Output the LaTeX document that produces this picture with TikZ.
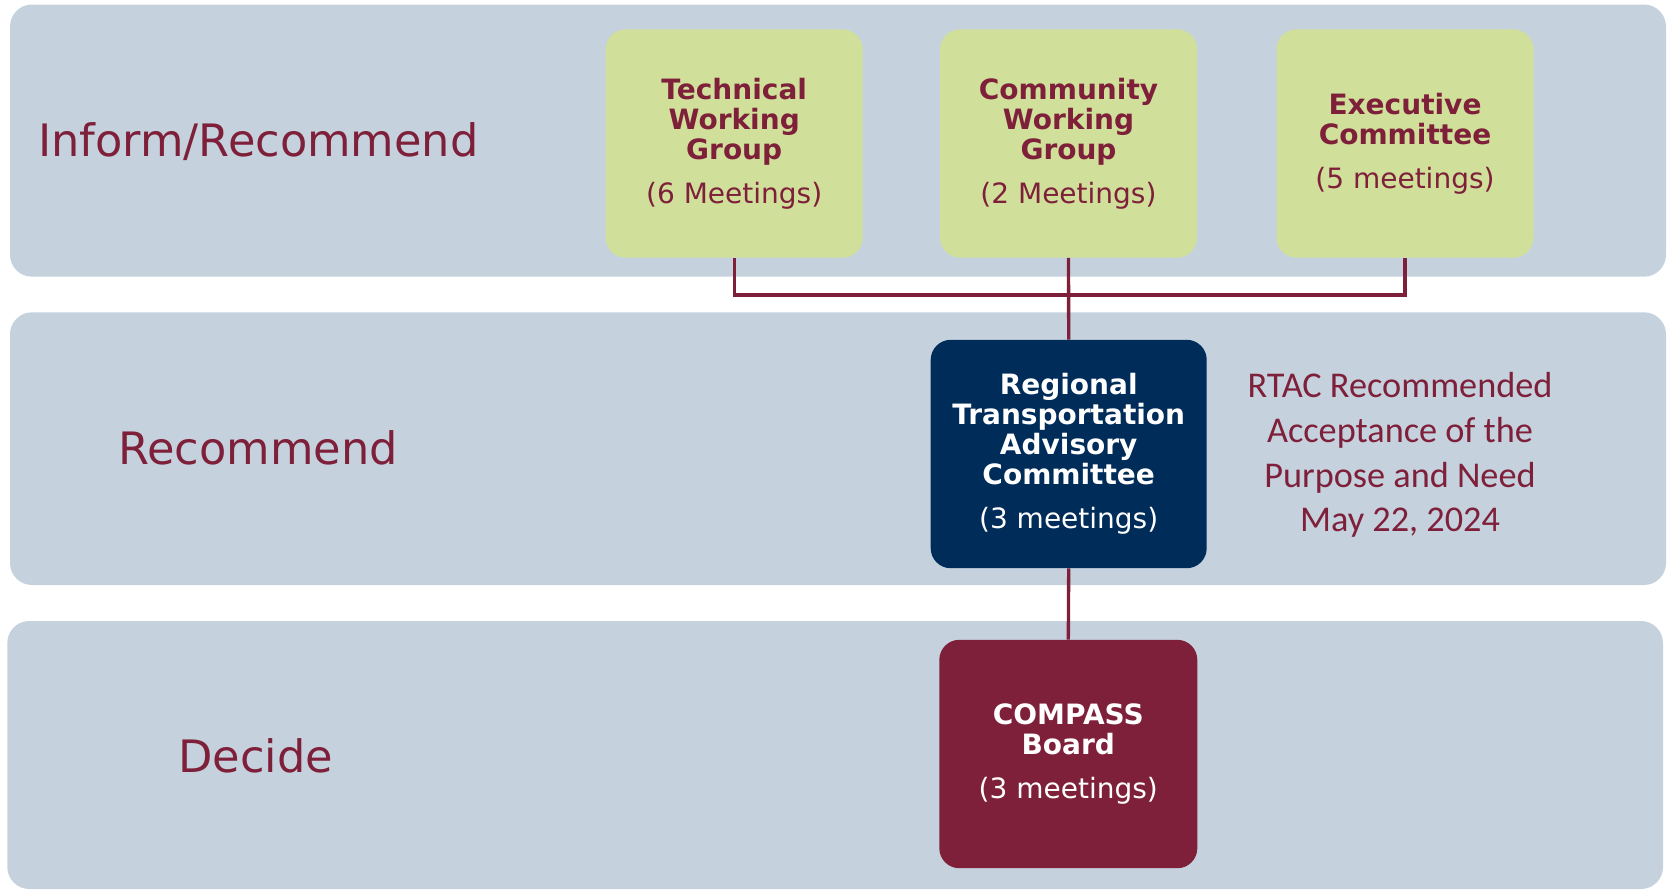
\documentclass[tikz,border=0pt]{standalone}
\usepackage{fontspec}
\setmainfont{DejaVu Sans}
\newfontfamily\notefont{Carlito}
\definecolor{laneblue}{HTML}{C5D2DE}
\definecolor{limegreen}{HTML}{D0E09B}
\definecolor{wine}{HTML}{7F203A}
\definecolor{navyblue}{HTML}{002C5A}
\newcommand\mtg[1]{{\fontsize{21pt}{22.5pt}\mdseries\selectfont #1}}
\begin{document}
\begin{tikzpicture}[x=0.75pt,y=-0.75pt,
  lane/.style={fill=laneblue, rounded corners=16.5pt},
  box/.style={rectangle, rounded corners=15pt, inner sep=0pt, align=center,
    minimum width=192.75pt, minimum height=171.2pt,
    font=\fontsize{21pt}{22.5pt}\selectfont\bfseries},
  greenbox/.style={box, fill=limegreen, text=wine},
  lbl/.style={inner sep=0pt, text=wine, font=\fontsize{33.5pt}{40pt}\selectfont},
  link/.style={draw=wine, line width=2.5pt}]
\useasboundingbox (0,0) rectangle (1669,890);
% bands
\fill[lane] (10,4.5) rectangle (1666,276.7);
\fill[lane] (10,312.3) rectangle (1666,585);
\fill[lane] (7.3,621) rectangle (1663,889);
% labels
\node[lbl, anchor=base west] (l1) at (38,156) {Inform/Recommend};
\node[lbl, anchor=base] (l2) at (258,464) {Recommend};
\node[lbl, anchor=base] (l3) at (255.5,772) {Decide};
% boxes
\node[greenbox] (tech) at (734.2,143.5) {Technical\\Working\\Group\\[10.5pt]\mtg{(6 Meetings)}};
\node[greenbox] (com) at (1068.5,143.5) {Community\\Working\\Group\\[10.5pt]\mtg{(2 Meetings)}};
\node[greenbox] (exec) at (1405,143.5) {Executive\\Committee\\[10.5pt]\mtg{(5 meetings)}};
\node[box, fill=navyblue, text=white, minimum width=207pt, minimum height=171.3pt] (rtac) at (1068.7,454)
  {Regional\\Transportation\\Advisory\\Committee\\[10.5pt]\mtg{(3 meetings)}};
\node[box, fill=wine, text=white, minimum width=193.5pt, minimum height=171.3pt] (board) at (1068.3,754)
  {COMPASS\\Board\\[10.5pt]\mtg{(3 meetings)}};
% note
\node[inner sep=0pt, align=center, text=wine, font=\notefont\fontsize{27.2pt}{33.5pt}\selectfont] (note) at (1400,455)
  {RTAC Recommended\\Acceptance of the\\Purpose and Need\\May 22, 2024};
% connectors
\coordinate (bus) at (1068.5,295);
\draw[link] (tech.south) |- (bus) -| (exec.south);
\draw[link] (com.south) -- (rtac.north);
\draw[link] (rtac.south) -- (board.north);
\end{tikzpicture}
\end{document}
